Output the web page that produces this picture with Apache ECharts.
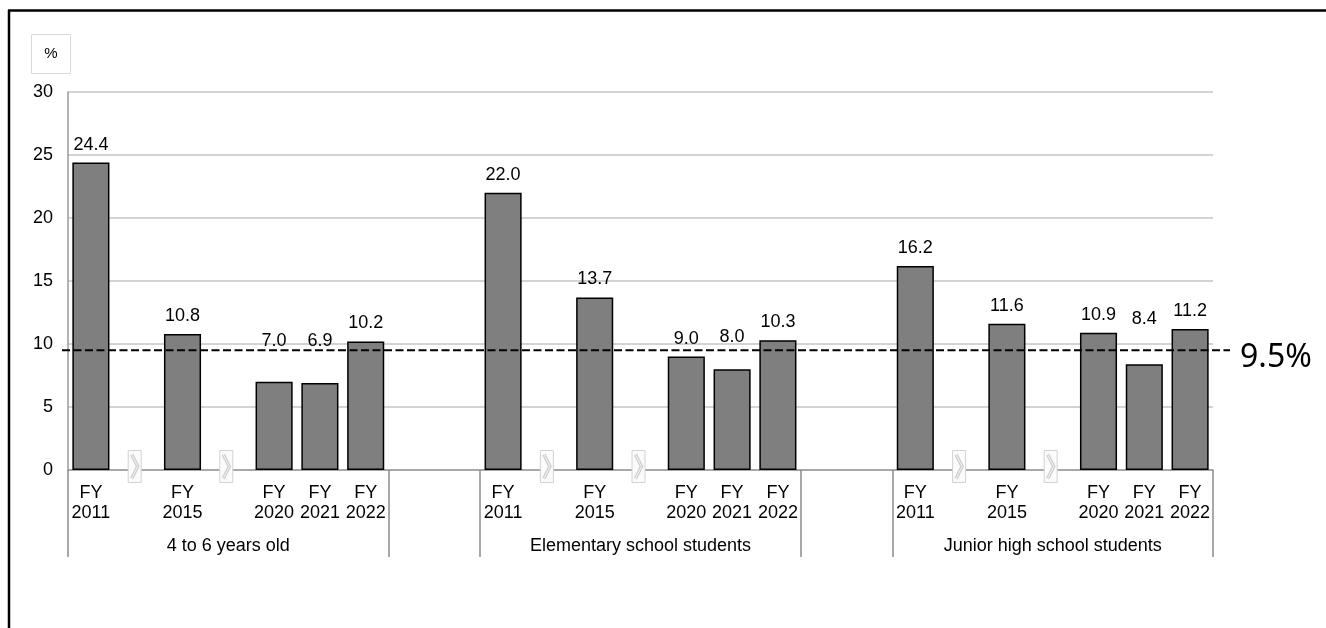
<!DOCTYPE html>
<html>
<head>
<meta charset="utf-8">
<title>Rate by age group</title>
<script src="https://cdn.jsdelivr.net/npm/echarts@6/dist/echarts.min.js"></script>
<style>
  html, body { margin: 0; padding: 0; background: #fff; }
  #chart { width: 1326px; height: 628px; }
</style>
</head>
<body>
<div id="chart"></div>
<script>
// ---- data ----
const groups = ['4 to 6 years old', 'Elementary school students', 'Junior high school students'];
const years = ['FY\n2011', 'FY\n2015', 'FY\n2020', 'FY\n2021', 'FY\n2022'];
const rate4to6 = [24.4, 10.8, 7.0, 6.9, 10.2];
const rateElementary = [22.0, 13.7, 9.0, 8.0, 10.3];
const rateJuniorHigh = [16.2, 11.6, 10.9, 8.4, 11.2];
const averageRate = 9.5;
const averageLabel = '9.5%';
const unitLabel = '%';
const yMin = 0, yMax = 30, yStep = 5;

// labels of short bars are lifted clear of the dashed average line (px, keyed "group-year")
const labelLift = { '0-2': 23, '0-3': 24, '1-3': 14, '2-3': 27 };

// ---- slot layout: a break marker sits between non-consecutive years,
// and two empty slots separate the groups ----
const groupRates = [rate4to6, rateElementary, rateJuniorHigh];
const slotPattern = [0, 'break', 1, 'break', 2, 3, 4];
const slots = [];
groups.forEach((g, gi) => {
  slotPattern.forEach((p, pi) => {
    slots.push({
      key: 'g' + gi + 's' + pi,
      group: gi,
      year: p === 'break' ? null : p,
      brk: p === 'break',
      first: pi === 0
    });
  });
  if (gi < groups.length - 1) {
    slots.push({ key: 'g' + gi + 'pad0', spacer: true, firstSpacer: true });
    slots.push({ key: 'g' + gi + 'pad1', spacer: true });
  }
});

const hasYear = s => s.year !== null && s.year !== undefined;
const categories = slots.map(s => s.key);
const yearLabels = slots.map(s => hasYear(s) ? years[s.year] : '');
const groupLabels = slots.map((s, i) => {
  // group title centred under the group's seven slots
  const start = slots.findIndex(t => t.group === s.group && t.first);
  return (!s.spacer && i === start + 3) ? groups[s.group] : '';
});
const barData = slots.map(s => {
  if (!hasYear(s)) return null;
  const item = { value: groupRates[s.group][s.year] };
  const lift = labelLift[s.group + '-' + s.year];
  if (lift) item.label = { offset: [0, -lift] };
  return item;
});
const breakData = slots.map((s, i) => s.brk ? [i, 0] : null).filter(Boolean);
const boundaryTicks = new Set(slots.map((s, i) => (s.first || s.firstSpacer) ? i : -1).filter(i => i >= 0));

const FONT = "'Liberation Sans', Arial, sans-serif";

const chart = echarts.init(document.getElementById('chart'), null, { renderer: 'canvas' });

chart.setOption({
  animation: false,
  backgroundColor: '#ffffff',
  grid: { left: 68, top: 92, width: 1145, height: 378, containLabel: false },
  xAxis: [
    {
      type: 'category',
      data: categories,
      position: 'bottom',
      boundaryGap: true,
      axisLine: { show: true, lineStyle: { color: '#9a9a9a', width: 1.5 } },
      axisTick: {
        show: true,
        length: 87,
        interval: (index) => boundaryTicks.has(index),
        lineStyle: { color: '#8c8c8c', width: 1.5 }
      },
      axisLabel: {
        interval: 0,
        margin: 13,
        fontFamily: FONT,
        fontSize: 18,
        lineHeight: 20,
        color: '#000',
        formatter: (v, i) => yearLabels[i]
      },
      splitLine: { show: false }
    },
    {
      type: 'category',
      data: categories,
      position: 'bottom',
      gridIndex: 0,
      axisLine: { show: false },
      axisTick: { show: false },
      axisLabel: {
        interval: 0,
        margin: 66,
        fontFamily: FONT,
        fontSize: 18,
        lineHeight: 20,
        color: '#000',
        formatter: (v, i) => groupLabels[i]
      },
      splitLine: { show: false }
    }
  ],
  yAxis: {
    type: 'value',
    min: yMin,
    max: yMax,
    interval: yStep,
    axisLine: { show: true, lineStyle: { color: '#9a9a9a', width: 1.5 } },
    axisTick: { show: false },
    axisLabel: { margin: 15, fontFamily: FONT, fontSize: 18, color: '#000' },
    splitLine: { show: true, lineStyle: { color: '#c4c4c4', width: 1.5 } }
  },
  series: [
    {
      type: 'bar',
      data: barData,
      barCategoryGap: '19%',
      itemStyle: { color: '#7f7f7f', borderColor: '#000', borderWidth: 1.5 },
      label: {
        show: true,
        position: 'top',
        distance: 9,
        fontFamily: FONT,
        fontSize: 18,
        color: '#000',
        formatter: p => p.value.toFixed(1)
      },
      z: 2
    },
    {
      // break markers on the axis between non-consecutive years
      type: 'custom',
      data: breakData,
      clip: false,
      z: 5,
      renderItem: (params, api) => {
        const pt = api.coord([api.value(0), api.value(1)]);
        const cx = pt[0] - 2, cy = pt[1] - 3.5;
        return {
          type: 'group',
          children: [
            { type: 'rect', shape: { x: cx - 6.5, y: cy - 16, width: 13, height: 32 },
              style: { fill: '#fbfbfb', stroke: '#d2d2d2', lineWidth: 1 } },
            { type: 'polyline', shape: { points: [[cx - 3, cy - 12], [cx + 3, cy], [cx - 3, cy + 12]] },
              style: { fill: null, stroke: '#cfcfcf', lineWidth: 3.5 } },
            { type: 'polyline', shape: { points: [[cx - 3, cy - 12], [cx + 3, cy], [cx - 3, cy + 12]] },
              style: { fill: null, stroke: '#f4f4f4', lineWidth: 1 } }
          ]
        };
      }
    },
    {
      // overall average reference line with its label
      type: 'custom',
      data: [[0, averageRate]],
      clip: false,
      z: 10,
      renderItem: (params, api) => {
        const cs = params.coordSys;
        const y = api.coord([api.value(0), api.value(1)])[1];
        return {
          type: 'group',
          children: [
            { type: 'line', shape: { x1: cs.x - 6, y1: y, x2: cs.x + cs.width + 17, y2: y },
              style: { stroke: '#000', lineWidth: 2, lineDash: [8, 3.5] } },
            { type: 'text', x: cs.x + cs.width + 27, y: y + 8,
              style: { text: averageLabel, fontFamily: "'Noto Sans', 'Open Sans', sans-serif",
                       fontSize: 32, fill: '#000', verticalAlign: 'middle', align: 'left' } }
          ]
        };
      }
    }
  ],
  graphic: [
    // unit box above the value axis
    { type: 'rect', left: 31, top: 34, shape: { width: 39, height: 39 },
      style: { fill: '#fff', stroke: '#d9d9d9', lineWidth: 1 } },
    { type: 'text', x: 51, y: 54,
      style: { text: unitLabel, fontFamily: FONT, fontSize: 15, fill: '#000', align: 'center', verticalAlign: 'middle' } },
    // frame lines along the top and left edges
    { type: 'line', shape: { x1: 8, y1: 10.5, x2: 1326, y2: 10.5 }, style: { stroke: '#000', lineWidth: 2.5 } },
    { type: 'line', shape: { x1: 9, y1: 10, x2: 9, y2: 628 }, style: { stroke: '#000', lineWidth: 2.5 } }
  ]
});
</script>
</body>
</html>
